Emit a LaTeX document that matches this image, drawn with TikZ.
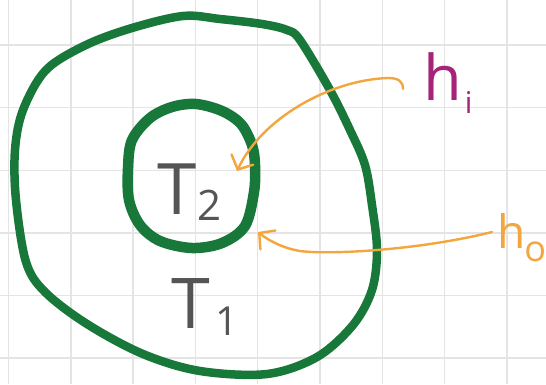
\documentclass[tikz,border=0pt]{standalone}
\usepackage{fontspec}
\setmainfont{Open Sans}
\usetikzlibrary{arrows.meta}
\definecolor{gridc}{HTML}{E4E4E4}
\definecolor{ringc}{HTML}{17783A}
\definecolor{arrowc}{HTML}{F3A53E}
\definecolor{labelc}{HTML}{A6237A}
\definecolor{textc}{HTML}{555555}
\begin{document}
\begin{tikzpicture}[x=1pt,y=-1pt,
  gridline/.style={gridc,line width=1.4pt},
  ring/.style={ringc,line width=#1,line join=round},
  arr/.style={arrowc,line width=2.4pt,line cap=round,-{Straight Barb[length=11pt,width=24pt,line cap=round]}},
  temp/.style={textc,inner sep=0pt,anchor=base west},
  hlabel/.style={inner sep=0pt,anchor=base west}]
\useasboundingbox (0,0) rectangle (546,384);
\fill[white] (0,0) rectangle (546,384);
\foreach \i in {0,...,8} \draw[gridline] ({8.5+62.3*\i},0) -- ({8.5+62.3*\i},384);
\foreach \j in {0,...,5} \draw[gridline] (0,{45+62.6*\j}) -- (546,{45+62.6*\j});
% outer ring
\draw[ring=8.5pt] plot[smooth cycle,tension=0.55] coordinates {
 (183,16) (220,19) (262,24) (287,30) (300,40) (330,90) (350,130) (365,165)
 (372,205) (377,250) (372,290) (353,325) (317,357) (267,374) (200,371)
 (143,354) (87,324) (45,292) (26,262) (16,200) (15,150) (23,110) (46,70)
 (86,45) (132,28)};
% inner ring
\draw[ring=10.5pt] plot[smooth cycle,tension=0.55] coordinates {
 (196,104) (222,111) (241,124) (252,145) (255,165) (254,192) (245,226)
 (222,243) (192,248) (160,241) (140,225) (129,200) (128,168) (132,140)
 (150,118) (172,107)};
% labels
\node[temp] (t2) at (157,214) {\fontsize{71}{71}\selectfont T\kern1pt\raisebox{-6pt}{\fontsize{42}{42}\selectfont 2}};
\node[temp] (t1) at (171,328) {\fontsize{70}{70}\selectfont T\kern6pt\raisebox{-7pt}{\fontsize{40}{40}\selectfont 1}};
\node[hlabel,labelc] (hi) at (423,100) {\fontsize{63}{63}\selectfont h\kern3pt\raisebox{-13pt}{\fontsize{30}{30}\selectfont i}};
\node[hlabel,arrowc] (ho) at (497,248) {\fontsize{46}{46}\selectfont h\kern-1pt\raisebox{-13pt}{\fontsize{36}{36}\selectfont o}};
% arrows
\coordinate (hiS) at (403,89);
\coordinate (hiE) at (237,171);
\coordinate (hoS) at (492,232);
\coordinate (hoE) at (258,232);
\draw[arr] (hiS) .. controls (403,81) and (398,78) .. (388,78)
  .. controls (330,80) and (262,118) .. (hiE);
\draw[arr] (hoS) .. controls (420,250) and (330,255) .. (300,251)
  .. controls (282,248) and (268,240) .. (hoE);
\end{tikzpicture}
\end{document}
